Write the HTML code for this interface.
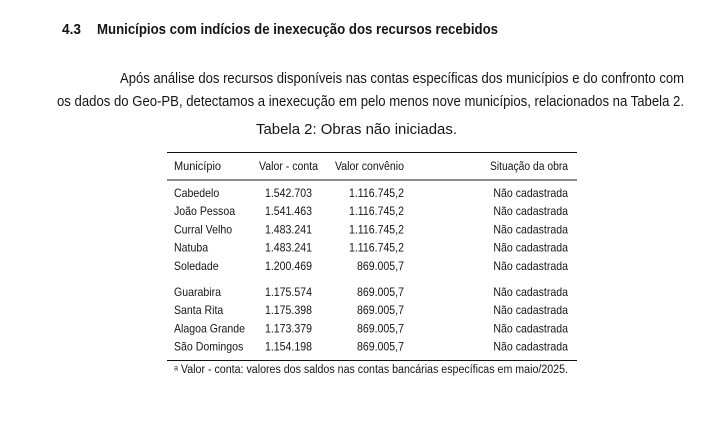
<!DOCTYPE html>
<html><head><meta charset="utf-8"><style>
html,body{margin:0;padding:0;background:#fff;}
svg{display:block;font-family:"Liberation Sans",sans-serif;fill:#151515;}
</style></head><body>
<svg width="711" height="425" viewBox="0 0 711 425">
<g font-weight="bold" font-size="15">
<text x="62" y="34" textLength="19" lengthAdjust="spacingAndGlyphs">4.3</text>
<text x="97" y="34" textLength="401" lengthAdjust="spacingAndGlyphs">Municípios com indícios de inexecução dos recursos recebidos</text>
</g>
<g font-size="15">
<text x="120" y="83" textLength="564" lengthAdjust="spacingAndGlyphs">Após análise dos recursos disponíveis nas contas específicas dos municípios e do confronto com</text>
<text x="57" y="106" textLength="627" lengthAdjust="spacingAndGlyphs">os dados do Geo-PB, detectamos a inexecução em pelo menos nove municípios, relacionados na Tabela 2.</text>
</g>
<text x="256" y="134" font-size="14.5" textLength="201" lengthAdjust="spacingAndGlyphs">Tabela 2: Obras não iniciadas.</text>
<g id="tbl" font-size="12">
<line x1="167" y1="152.5" x2="577" y2="152.5" stroke="#111" stroke-width="1"/>
<line x1="167" y1="180" x2="577" y2="180" stroke="#666" stroke-width="1.5"/>
<line x1="167" y1="360.5" x2="577" y2="360.5" stroke="#111" stroke-width="1"/>
<g font-size="11.5">
<text x="174" y="170" textLength="47" lengthAdjust="spacingAndGlyphs">Município</text>
<text x="259" y="170" textLength="59" lengthAdjust="spacingAndGlyphs">Valor - conta</text>
<text x="335" y="170" textLength="69" lengthAdjust="spacingAndGlyphs">Valor convênio</text>
<text x="490" y="170" textLength="78" lengthAdjust="spacingAndGlyphs">Situação da obra</text>
</g>
<g id="rows"></g>
<text x="174" y="373" font-size="11.5" textLength="394" lengthAdjust="spacingAndGlyphs">ᵃ Valor - conta: valores dos saldos nas contas bancárias específicas em maio/2025.</text>
</g>
</svg>
<script>
const municipios=["Cabedelo","João Pessoa","Curral Velho","Natuba","Soledade","Guarabira","Santa Rita","Alagoa Grande","São Domingos"];
const valorConta=["1.542.703","1.541.463","1.483.241","1.483.241","1.200.469","1.175.574","1.175.398","1.173.379","1.154.198"];
const valorConvenio=["1.116.745,2","1.116.745,2","1.116.745,2","1.116.745,2","869.005,7","869.005,7","869.005,7","869.005,7","869.005,7"];
const situacao=["Não cadastrada","Não cadastrada","Não cadastrada","Não cadastrada","Não cadastrada","Não cadastrada","Não cadastrada","Não cadastrada","Não cadastrada"];
const ns="http://www.w3.org/2000/svg";
const g=document.getElementById('rows');
function t(parent,x,y,s,anchor){const e=document.createElementNS(ns,'text');e.setAttribute('x',x);e.setAttribute('y',y);if(anchor)e.setAttribute('text-anchor',anchor);e.textContent=s;parent.appendChild(e);
 const w=e.getComputedTextLength();e.setAttribute('textLength',(w*0.88).toFixed(1));e.setAttribute('lengthAdjust','spacingAndGlyphs');return e;}
municipios.forEach((m,i)=>{
 const y=197+i*18.2+(i>=5?8:0);
 const row=document.createElementNS(ns,'g');
 
 
 g.appendChild(row);
 t(row,174,y,m);
 t(row,312,y,valorConta[i],'end');
 t(row,404,y,valorConvenio[i],'end');
 t(row,568,y,situacao[i],'end');
});
</script>
</body></html>
